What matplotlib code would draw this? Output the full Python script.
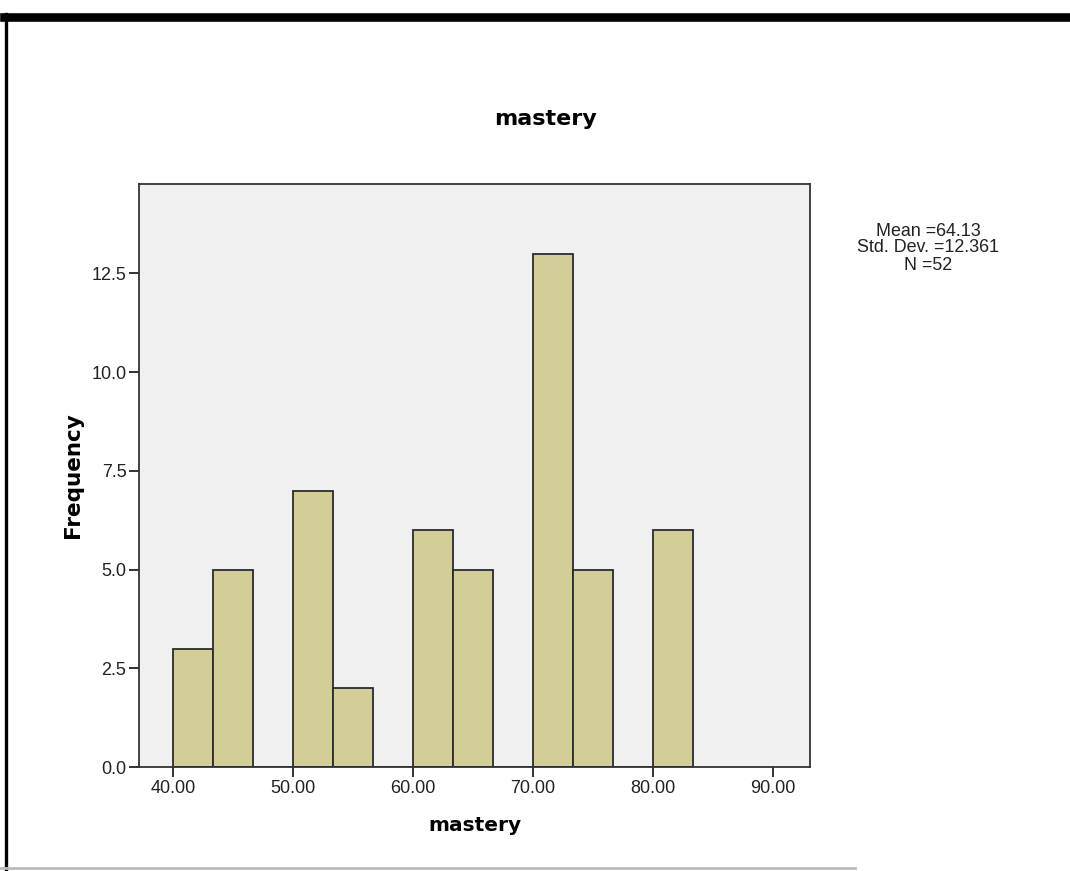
import matplotlib.pyplot as plt
from matplotlib.lines import Line2D

# histogram data (SPSS style)
bin_start = 40.0
bin_width = 10.0 / 3
counts = [3, 5, 0, 7, 2, 0, 6, 5, 0, 13, 5, 0, 6]
x_ticks = [40, 50, 60, 70, 80, 90]
x_tick_labels = ["40.00", "50.00", "60.00", "70.00", "80.00", "90.00"]
y_ticks = [0.0, 2.5, 5.0, 7.5, 10.0, 12.5]
stats_text = "Mean =64.13\nStd. Dev. =12.361\nN =52"

plt.rcParams['font.family'] = ['Liberation Sans', 'DejaVu Sans']

fig = plt.figure(figsize=(10.70, 8.71), dpi=100)
W, H = 1070, 871
ax = fig.add_axes([139 / W, 1 - 767 / H, (810 - 139) / W, (767 - 184) / H])
ax.set_facecolor("#F0F0F0")

lefts = [bin_start + i * bin_width for i in range(len(counts))]
ax.bar(lefts, counts, width=bin_width, align="edge",
       color="#D3CE98", edgecolor="#2b2b2b", linewidth=1.3)

ax.set_xlim(37.17, 93.08)
ax.set_ylim(0, 14.76)
ax.set_xticks(x_ticks)
ax.set_xticklabels(x_tick_labels)
ax.set_yticks(y_ticks)
ax.set_yticklabels([f"{v:.1f}" for v in y_ticks])
ax.tick_params(direction="out", length=7, width=1.3, labelsize=13, colors="#222222", pad=2)
for s in ax.spines.values():
    s.set_color("#333333")
    s.set_linewidth(1.3)

bold = dict(family="DejaVu Sans", fontweight="bold")
ax.set_xlabel("mastery", fontsize=14.5, labelpad=14, **bold)
ax.set_ylabel("Frequency", fontsize=15.5, labelpad=6, **bold)
fig.text(545 / W, 1 - 119 / H, "mastery", fontsize=16,
         ha="center", va="center", **bold)
fig.text(928 / W, 1 - 248 / H, stats_text, fontsize=12.9, ha="center",
         va="center", linespacing=1.0, color="#222222")

# outer frame like the screenshot
fig.add_artist(Line2D([4 / W, 1.0], [1 - 17.5 / H, 1 - 17.5 / H], color="black",
                      linewidth=6.2, transform=fig.transFigure))
fig.add_artist(Line2D([5.5 / W, 5.5 / W], [1 - 14 / H, 0], color="black",
                      linewidth=2.4, transform=fig.transFigure))
fig.add_artist(Line2D([0, 855 / W], [1 - 868 / H, 1 - 868 / H], color="#bbbbbb",
                      linewidth=2, transform=fig.transFigure))

fig.savefig("out.png", dpi=100)
